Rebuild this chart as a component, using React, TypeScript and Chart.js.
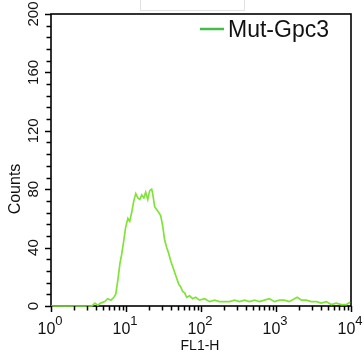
import React, { useEffect, useRef } from "react";
import { Chart, registerables } from "chart.js";

Chart.register(...registerables);

const seriesLabel = "Mut-Gpc3";
const xTitle = "FL1-H";
const yTitle = "Counts";

// FL1-H channel values (log scale) and counts
const fl1Values = [
  1, 3.5, 3.85, 4.2, 4.6, 5.2, 5.7, 6.3, 6.9, 7.3, 7.8, 8.3, 8.8, 9.35, 9.9,
  10.6, 11.2, 11.9, 12.7, 13.5, 14.4, 15.3, 16.2, 17.3, 18.3, 19.5, 20.7, 22.0,
  22.7, 24.1, 25.7, 27.3, 29.0, 30.8, 32.8, 34.9, 37.1, 39.4, 41.9, 44.6, 47.4,
  50.4, 53.6, 56.9, 60.5, 64.4, 70.5, 77.3, 84.7, 95.7, 112, 130, 152, 177,
  206, 240, 280, 326, 380, 443, 516, 601, 701, 817, 952, 1110, 1293, 1507,
  1757, 1926, 2178, 2538, 2958, 3447, 4018, 4683, 5457, 6360, 7413, 8640, 9750,
];
const counts = [
  0, 0, 2, 0.5, 2, 3, 5, 4, 6, 8, 18, 29, 36, 45, 54,
  60, 58, 64, 72, 77, 74, 73, 76, 74, 78, 73, 79, 80,
  77, 68, 66, 64, 62, 55, 45, 40, 36, 31, 27, 23, 19,
  15, 13, 10, 9, 6, 7, 5, 6, 4, 5, 3, 4, 3,
  3, 3, 4, 3, 4, 3, 4, 3, 4, 5, 3, 4, 4, 3,
  5, 6, 4, 4, 3, 3, 2, 3, 1, 2, 1, 1, 2.5,
];

const yTickValues = [0, 40, 80, 120, 160, 200];
const yMinorStep = 8;
const xTickBases = ["10", "10", "10", "10", "10"];
const xTickExponents = ["0", "1", "2", "3", "4"];
const xTickValues = [1, 10, 100, 1000, 10000];

const FONT = "'Liberation Sans', Arial, Helvetica, sans-serif";
const LINE_COLOR = "#80e33a";
const LEGEND_COLOR = "#45bd4c";

const axesPlugin = {
  id: "flowAxes",
  beforeDatasetsDraw(chart: any) {
    const { ctx, chartArea } = chart;
    const { left, right, top, bottom } = chartArea;
    ctx.save();
    ctx.strokeStyle = "#000";
    ctx.lineWidth = 1.6;
    ctx.strokeRect(left, top, right - left, bottom - top);
    ctx.restore();
  },
  afterDraw(chart: any) {
    const { ctx, chartArea, scales } = chart;
    const { left, right, top, bottom } = chartArea;
    const x = scales.x;
    const y = scales.y;
    ctx.save();
    ctx.strokeStyle = "#000";
    ctx.fillStyle = "#111";
    ctx.lineWidth = 1.5;

    // y ticks
    const yMax = yTickValues[yTickValues.length - 1];
    for (let v = 0; v <= yMax; v += yMinorStep) {
      const py = Math.round(y.getPixelForValue(v)) + 0.5;
      const major = yTickValues.includes(v);
      ctx.beginPath();
      ctx.moveTo(left, py);
      ctx.lineTo(left - (major ? 6 : 4.5), py);
      ctx.stroke();
    }
    // y labels (rotated)
    ctx.font = `15px ${FONT}`;
    ctx.textAlign = "center";
    ctx.textBaseline = "alphabetic";
    yTickValues.forEach((v) => {
      const py = y.getPixelForValue(v);
      ctx.save();
      ctx.translate(left - 13, py);
      ctx.rotate(-Math.PI / 2);
      ctx.fillText(String(v), 0, 0);
      ctx.restore();
    });

    // x ticks (log decades with minor ticks)
    for (let d = 0; d < xTickValues.length; d++) {
      const base = xTickValues[d];
      const maxM = d === xTickValues.length - 1 ? 1 : 9;
      for (let m = 1; m <= maxM; m++) {
        const px = Math.round(x.getPixelForValue(base * m)) + 0.5;
        ctx.beginPath();
        ctx.moveTo(px, bottom);
        ctx.lineTo(px, bottom + (m === 1 ? 6 : 4.5));
        ctx.stroke();
      }
    }
    // x labels with superscripts
    xTickValues.forEach((v, i) => {
      const px = x.getPixelForValue(v);
      ctx.font = `16px ${FONT}`;
      const w1 = ctx.measureText(xTickBases[i]).width;
      ctx.font = `13px ${FONT}`;
      const w2 = ctx.measureText(xTickExponents[i]).width;
      const start = px - (w1 + w2) / 2 - 1;
      ctx.textAlign = "left";
      ctx.font = `16px ${FONT}`;
      ctx.fillText(xTickBases[i], start, bottom + 28);
      ctx.font = `13px ${FONT}`;
      ctx.fillText(xTickExponents[i], start + w1, bottom + 19);
    });

    // titles
    ctx.textAlign = "center";
    ctx.font = `14px ${FONT}`;
    ctx.fillText(xTitle, (left + right) / 2 - 1, bottom + 44);
    ctx.save();
    ctx.translate(20, 189);
    ctx.rotate(-Math.PI / 2);
    ctx.font = `16px ${FONT}`;
    ctx.fillText(yTitle, 0, 0);
    ctx.restore();

    // legend
    ctx.strokeStyle = LEGEND_COLOR;
    ctx.lineWidth = 2.5;
    ctx.beginPath();
    ctx.moveTo(200, 29);
    ctx.lineTo(224, 29);
    ctx.stroke();
    ctx.fillStyle = "#111";
    ctx.textAlign = "left";
    ctx.font = `23px ${FONT}`;
    ctx.fillText(chart.data.datasets[0].label, 228, 37);

    ctx.restore();
  },
};

export default function App() {
  const ref = useRef<HTMLCanvasElement | null>(null);
  useEffect(() => {
    if (!ref.current) return;
    const points = fl1Values.map((v, i) => ({ x: v, y: counts[i] }));
    const chart = new Chart(ref.current, {
      type: "line",
      data: {
        datasets: [
          {
            label: seriesLabel,
            data: points,
            borderColor: LINE_COLOR,
            borderWidth: 1.7,
            pointRadius: 0,
            tension: 0,
            fill: false,
            clip: 4,
          } as any,
        ],
      },
      options: {
        animation: false,
        responsive: false,
        maintainAspectRatio: false,
        devicePixelRatio: 1,
        layout: { padding: { left: 51, top: 14, right: 13, bottom: 55 } },
        plugins: { legend: { display: false }, tooltip: { enabled: false } },
        scales: {
          x: { type: "logarithmic", min: 1, max: 10000, display: false },
          y: { type: "linear", min: 0, max: 200, display: false },
        },
      },
      plugins: [axesPlugin],
    });
    return () => chart.destroy();
  }, []);

  return (
    <div style={{ position: "fixed", left: 0, top: 0, width: 364, height: 361, background: "#fff" }}>
      <div
        style={{
          position: "absolute",
          left: 140,
          top: -1,
          width: 105,
          height: 12,
          border: "1px solid #e2e2e2",
          boxSizing: "border-box",
        }}
      />
      <canvas ref={ref} width={364} height={361} style={{ position: "absolute", left: 0, top: 0 }} />
    </div>
  );
}
